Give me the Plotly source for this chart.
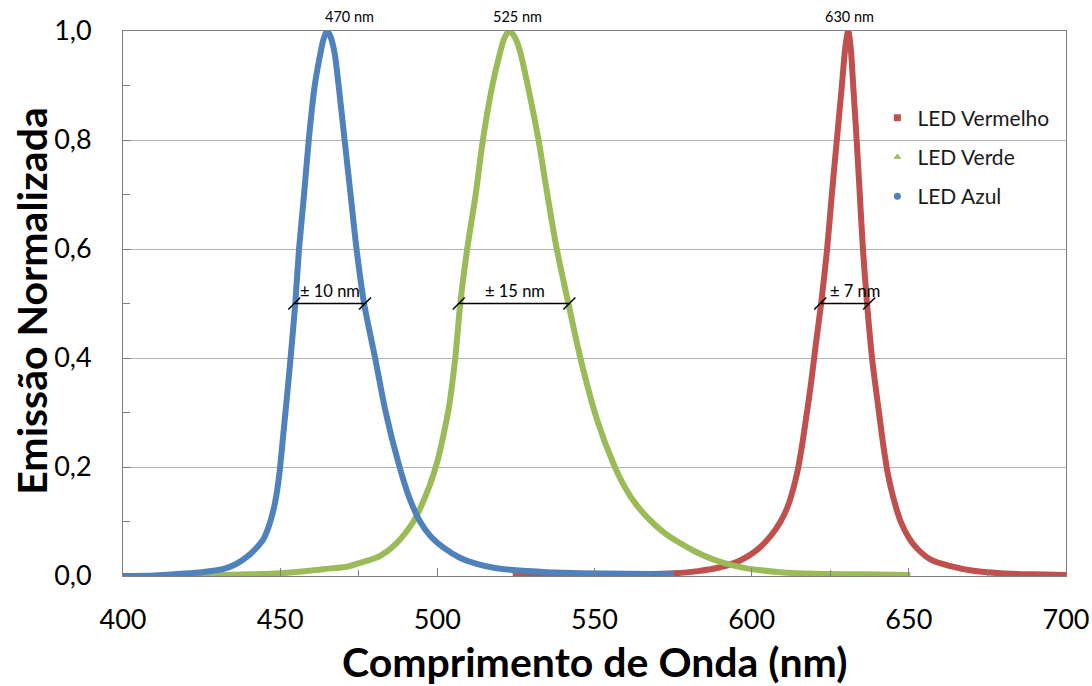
import plotly.graph_objects as go

# ---------------- data ----------------
blue_nm = [400, 410, 418, 425, 432, 436, 439.4, 442.5, 444.7, 446.3, 447.6, 448.7, 449.7, 451, 453, 454.8,
           456.0, 457.6, 459.1, 461.0, 462.5, 463.8, 464.9, 466.0, 467.3, 468.6, 470.5, 472.4, 474.3,
           476.7, 480.2, 483.6, 487.5, 491, 494.5, 498, 502, 507, 512, 518, 524, 535, 545.5, 560, 575]
blue_v = [0.0, 0.001, 0.004, 0.007, 0.013, 0.022, 0.035, 0.052, 0.068, 0.09, 0.115, 0.145, 0.185, 0.26, 0.38, 0.50,
          0.60, 0.70, 0.80, 0.90, 0.95, 0.985, 1.0, 0.99, 0.96, 0.90, 0.80, 0.70, 0.60,
          0.50, 0.40, 0.30, 0.21, 0.145, 0.10, 0.072, 0.052, 0.034, 0.023, 0.015, 0.011, 0.007, 0.005, 0.004, 0.003]

green_nm = [420, 430, 440, 450, 460, 466, 471.2, 476, 481.8, 487, 492.4, 495, 497.5, 500, 502, 503.7,
            505.7, 507.3, 509.5, 512.2, 514.5, 517.5, 519.5, 521.2, 522.8, 524.5, 526.2, 528.2, 530.2, 532.2,
            535.0, 538.0, 541.7, 545.5, 550.8, 556.1, 559, 562.5, 566.7, 572, 577.3, 582, 587.9, 594.3, 598.5,
            609.2, 620, 635, 650.5]
green_v = [0.0, 0.002, 0.003, 0.005, 0.01, 0.014, 0.017, 0.025, 0.037, 0.06, 0.10, 0.13, 0.165, 0.21, 0.26, 0.31,
           0.40, 0.50, 0.60, 0.70, 0.80, 0.90, 0.95, 0.985, 1.0, 0.99, 0.965, 0.915, 0.86, 0.80,
           0.70, 0.60, 0.50, 0.40, 0.287, 0.205, 0.17, 0.137, 0.108, 0.080, 0.060, 0.045, 0.030, 0.019, 0.014,
           0.007, 0.004, 0.003, 0.002]

red_nm = [524, 535, 550, 565, 575.2, 583, 590, 595, 599, 602.5, 606, 609.2, 611.3, 613.0, 614.5, 615.9,
          617.2, 618.8, 620.3, 622.1, 624, 625.5, 627.1, 628.7, 629.8, 630.7, 631.5, 632.3, 633.4, 634.4,
          635.4, 636.7, 638.3, 640.5, 642.0, 643.4, 645.0, 647.4, 650, 652.7, 657, 663.3, 670, 679.2, 690, 700]
red_v = [0.0, 0.001, 0.002, 0.003, 0.005, 0.009, 0.016, 0.025, 0.037, 0.052, 0.073, 0.10, 0.125, 0.155, 0.19, 0.235,
         0.285, 0.35, 0.42, 0.50, 0.60, 0.70, 0.80, 0.90, 0.97, 1.0, 0.97, 0.90, 0.80, 0.70,
         0.60, 0.50, 0.40, 0.30, 0.235, 0.185, 0.145, 0.10, 0.07, 0.05, 0.03, 0.018, 0.01, 0.005, 0.003, 0.002]

series_names = ["LED Vermelho", "LED Verde", "LED Azul"]
series_colors = ["#C0504D", "#9BBB59", "#4F81BD"]
series_symbols = ["square", "triangle-up", "circle"]

peak_label_x = [472.0, 525.6, 631.0]
peak_labels = ["470 nm", "525 nm", "630 nm"]

fwhm_left = [454.5, 506.8, 621.8]
fwhm_right = [477.0, 542.0, 637.4]
fwhm_level = 0.5
fwhm_label_x = [465.9, 524.8, 633.0]
fwhm_labels = ["± 10 nm", "± 15 nm", "± 7 nm"]

x_title = "Comprimento de Onda (nm)"
y_title = "Emissão Normalizada"

FONT = "Lato"

fig = go.Figure()

# curves (drawn red, green, blue so blue is on top)
for nm, v, col in [(red_nm, red_v, series_colors[0]),
                   (green_nm, green_v, series_colors[1]),
                   (blue_nm, blue_v, series_colors[2])]:
    fig.add_trace(go.Scatter(x=nm, y=v, mode="lines",
                             line=dict(color=col, width=6, shape="spline", smoothing=0.8),
                             showlegend=False, hoverinfo="skip"))

# legend entries (markers only)
for i, (name, col, sym) in enumerate(zip(series_names, series_colors, series_symbols)):
    fig.add_trace(go.Scatter(x=[None], y=[None], mode="markers", name=name, legendgroup=f"g{i}",
                             marker=dict(color=col, symbol=sym, size=7)))

# FWHM brackets
for xl, xr in zip(fwhm_left, fwhm_right):
    fig.add_trace(go.Scatter(x=[xl, xr], y=[fwhm_level, fwhm_level], mode="lines+markers",
                             line=dict(color="black", width=1.5),
                             marker=dict(symbol="line-ne", size=12, line=dict(color="black", width=1.5)),
                             showlegend=False, hoverinfo="skip"))

for xt, txt in zip(fwhm_label_x, fwhm_labels):
    fig.add_annotation(x=xt, y=fwhm_level, text=txt, showarrow=False, yanchor="bottom", yshift=1,
                       font=dict(family=FONT, size=16.5, color="black"))

for xt, txt in zip(peak_label_x, peak_labels):
    fig.add_annotation(x=xt, y=1.0, text=txt, showarrow=False, yanchor="middle", yshift=15,
                       font=dict(family=FONT, size=14.5, color="black"))

# axis titles
fig.add_annotation(xref="paper", yref="paper", x=0.5, y=-0.156, text=f"<b>{x_title}</b>",
                   showarrow=False, xanchor="center", yanchor="middle",
                   font=dict(family=FONT, size=41, color="black"))
fig.add_annotation(xref="paper", yref="paper", x=-0.0965, y=0.505, text=f"<b>{y_title}</b>",
                   showarrow=False, xanchor="center", yanchor="middle", textangle=-90,
                   font=dict(family=FONT, size=41, color="black"))

axis_line = "#808080"
fig.update_layout(
    width=1092, height=686,
    margin=dict(l=123, r=26, t=31, b=110, autoexpand=False),
    paper_bgcolor="white", plot_bgcolor="white",
    separators=",.",
    font=dict(family=FONT, color="black"),
    legend=dict(x=0.80, y=0.878, xanchor="left", yanchor="top", tracegroupgap=9,
                font=dict(family=FONT, size=21, color="#1a1a1a"), bgcolor="rgba(0,0,0,0)"),
    xaxis=dict(range=[400, 700], dtick=50, tick0=400, showgrid=False, zeroline=False, automargin=False,
               showline=True, linecolor=axis_line, linewidth=1, mirror=True,
               ticks="inside", ticklen=8, tickcolor=axis_line,
               minor=dict(dtick=25, ticks="inside", ticklen=6, tickcolor=axis_line),
               tickfont=dict(family=FONT, size=27, color="black"), ticklabelstandoff=20),
    yaxis=dict(range=[0, 1.0], dtick=0.2, tick0=0, tickformat=".1f", showgrid=True, gridcolor="#b3b3b3",
               gridwidth=1, zeroline=False, automargin=False,
               showline=True, linecolor=axis_line, linewidth=1, mirror=True,
               ticks="inside", ticklen=8, tickcolor=axis_line,
               minor=dict(dtick=0.1, ticks="inside", ticklen=7, tickcolor=axis_line, showgrid=False),
               tickfont=dict(family=FONT, size=27, color="black"), ticklabelstandoff=25),
)

fig.write_html("out.html")
